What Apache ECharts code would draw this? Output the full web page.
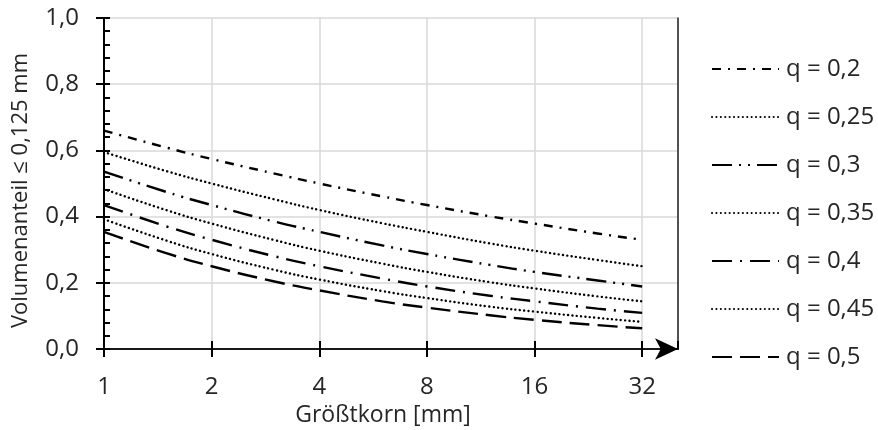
<!DOCTYPE html>
<html><head><meta charset="utf-8">
<script src="https://cdn.jsdelivr.net/npm/echarts@6/dist/echarts.min.js"></script>
<style>html,body{margin:0;padding:0;background:#fff}#c{width:878px;height:430px}</style>
</head><body><div id="c"></div>
<script>
// Größtkorn [mm]
const xValues = [1, 1.5, 2, 3, 4, 6, 8, 12, 16, 24, 32];
const xTicks = [1, 2, 4, 8, 16, 32];
const yTicks = [0, 0.2, 0.4, 0.6, 0.8, 1.0];
const seriesNames = ['q = 0,2', 'q = 0,25', 'q = 0,3', 'q = 0,35', 'q = 0,4', 'q = 0,45', 'q = 0,5'];
const q020 = [0.660, 0.608, 0.574, 0.530, 0.500, 0.461, 0.435, 0.401, 0.379, 0.349, 0.330];
const q025 = [0.595, 0.537, 0.500, 0.452, 0.420, 0.380, 0.354, 0.319, 0.297, 0.269, 0.250];
const q030 = [0.536, 0.474, 0.435, 0.385, 0.354, 0.313, 0.287, 0.254, 0.233, 0.207, 0.189];
const q035 = [0.483, 0.419, 0.379, 0.329, 0.297, 0.258, 0.233, 0.202, 0.183, 0.159, 0.144];
const q040 = [0.435, 0.370, 0.330, 0.280, 0.250, 0.213, 0.189, 0.161, 0.144, 0.122, 0.109];
const q045 = [0.392, 0.327, 0.287, 0.239, 0.210, 0.175, 0.154, 0.128, 0.113, 0.094, 0.082];
const q050 = [0.354, 0.289, 0.250, 0.204, 0.177, 0.144, 0.125, 0.102, 0.088, 0.072, 0.0625];
const seriesValues = [q020, q025, q030, q035, q040, q045, q050];

const dashes = [
  [9, 7, 2, 7],
  [0.1, 4.3],
  [20, 7, 2, 7, 2, 7],
  [0.1, 4.3],
  [20, 8, 2, 8],
  [0.1, 4.3],
  [20, 8]
];

const FONT = '"Open Sans", "Noto Sans", sans-serif';
const TXT = '#262626';
const chart = echarts.init(document.getElementById('c'), null, {renderer: 'canvas'});
const xMax = 40.3;
const gridCol = '#d9d9d9';

chart.setOption({
  animation: false,
  textStyle: {fontFamily: FONT},
  grid: {left: 104, right: 200, top: 18, bottom: 81, containLabel: false, outerBoundsMode: 'none'},
  legend: {
    orient: 'vertical', left: 706, top: 52,
    itemWidth: 67, itemHeight: 14, itemGap: 24,
    itemStyle: {opacity: 0},
    textStyle: {fontFamily: FONT, fontSize: 24, color: TXT, lineHeight: 24, padding: [0, 0, 0, 2]},
    data: seriesNames
  },
  xAxis: [{
    type: 'log', logBase: 2, min: 1, max: xMax,
    name: 'Größtkorn [mm]', nameLocation: 'middle', nameGap: 49,
    nameTextStyle: {fontFamily: FONT, fontSize: 23, color: TXT, padding: [0, 16, 0, 0]},
    axisLine: {show: true, lineStyle: {color: '#000', width: 2}, symbol: ['none', 'arrow'], symbolSize: [16, 23]},
    axisTick: {show: true, length: 8, lineStyle: {color: '#000', width: 2}},
    axisLabel: {fontFamily: FONT, fontSize: 24, color: TXT, margin: 26, showMaxLabel: false,
      formatter: v => xTicks.indexOf(Math.round(v)) >= 0 ? String(Math.round(v)) : ''},
    splitLine: {show: true, lineStyle: {color: gridCol, width: 1.5}}
  }, {
    type: 'log', logBase: 2, min: 1, max: xMax, position: 'bottom',
    axisLine: {show: false}, axisLabel: {show: false}, splitLine: {show: false},
    axisTick: {show: true, inside: true, length: 8, lineStyle: {color: '#000', width: 2}}
  }, {
    type: 'log', logBase: 2, min: 1, max: xMax, position: 'top',
    axisLine: {show: true, lineStyle: {color: '#222', width: 1.5}},
    axisLabel: {show: false}, axisTick: {show: false}, splitLine: {show: false}
  }],
  yAxis: [{
    type: 'value', min: yTicks[0], max: yTicks[yTicks.length - 1], interval: 0.2,
    name: 'Volumenanteil ≤ 0,125 mm', nameLocation: 'middle', nameGap: 72,
    nameTextStyle: {fontFamily: FONT, fontSize: 22, color: TXT, padding: [0, 14, 0, 0]},
    axisLine: {show: true, lineStyle: {color: '#000', width: 2}},
    axisTick: {show: true, length: 8, lineStyle: {color: '#000', width: 2}},
    axisLabel: {fontFamily: FONT, fontSize: 24, color: TXT, margin: 25,
      formatter: v => v.toFixed(1).replace('.', ',')},
    splitLine: {show: true, lineStyle: {color: gridCol, width: 1.5}}
  }, {
    type: 'value', min: 0, max: 1, interval: 0.2, position: 'left',
    axisLine: {show: false}, axisLabel: {show: false}, splitLine: {show: false},
    axisTick: {show: true, inside: true, length: 6, lineStyle: {color: '#000', width: 2}},
    minorTick: {show: true, splitNumber: 5, length: 6, lineStyle: {color: '#000', width: 2}}
  }, {
    type: 'value', min: 0, max: 1, interval: 0.2, position: 'right',
    axisLine: {show: true, lineStyle: {color: '#222', width: 1.5}},
    axisLabel: {show: false}, axisTick: {show: false}, splitLine: {show: false}
  }],
  series: seriesNames.map((n, i) => ({
    name: n, type: 'line', smooth: true, symbol: 'none',
    xAxisIndex: 0, yAxisIndex: 0,
    lineStyle: {color: '#000', width: 2.4, type: dashes[i], cap: i % 2 === 1 ? 'round' : 'butt'},
    itemStyle: {color: '#000'},
    data: xValues.map((x, k) => [x, seriesValues[i][k]])
  }))
});
</script></body></html>
